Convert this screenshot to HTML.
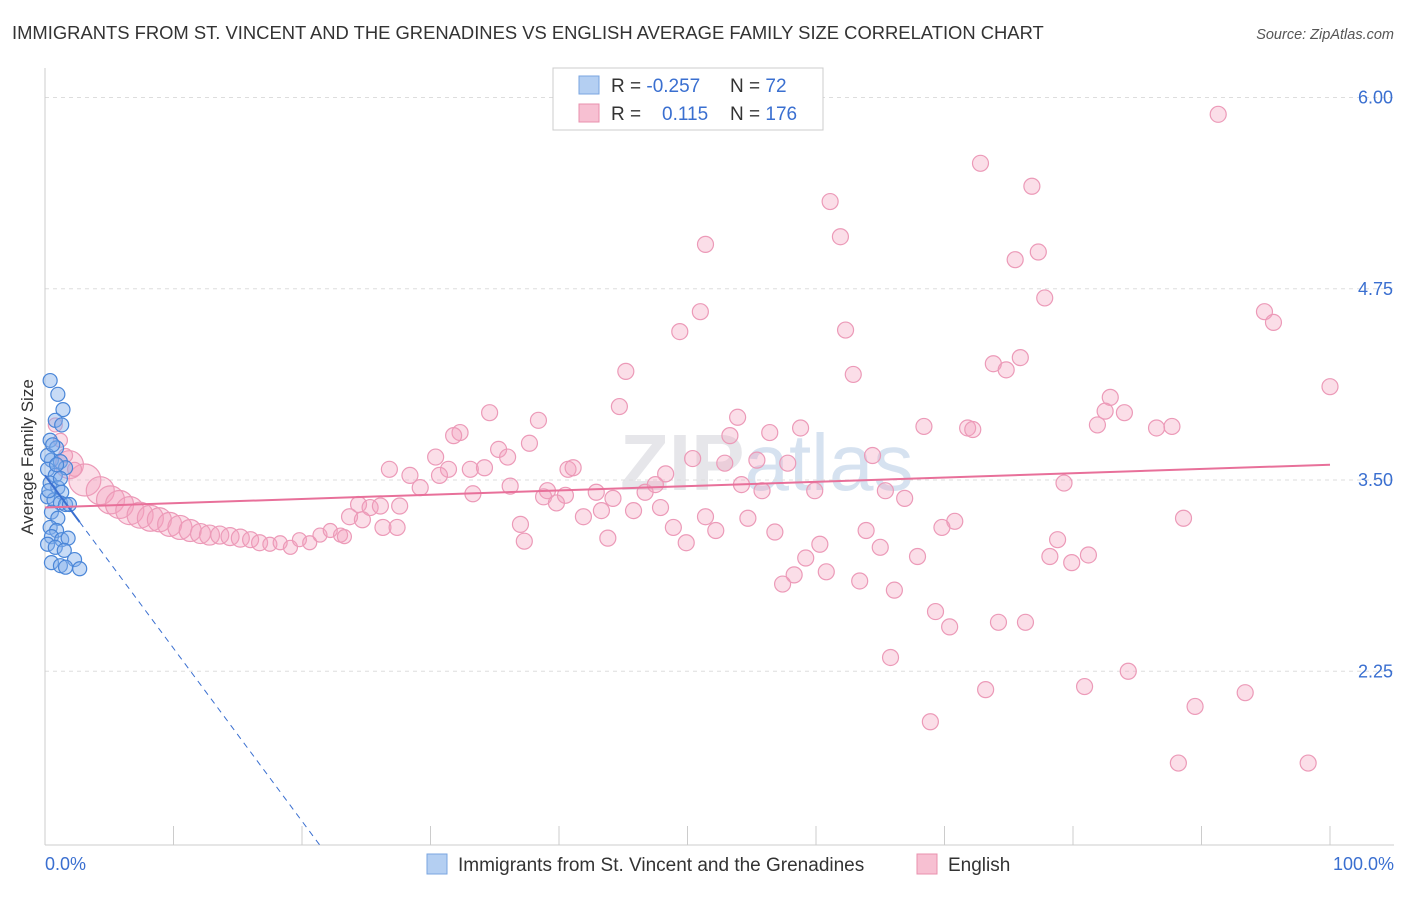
<!DOCTYPE html>
<html><head><meta charset="utf-8"><style>
body{margin:0;background:#fff;font-family:"Liberation Sans",sans-serif;}
svg text{font-family:"Liberation Sans",sans-serif;}
</style></head><body>
<svg id="chart" width="1406" height="892">
<text x="12" y="39" font-size="18.4" fill="#333">IMMIGRANTS FROM ST. VINCENT AND THE GRENADINES VS ENGLISH AVERAGE FAMILY SIZE CORRELATION CHART</text>
<text x="1394" y="39" font-size="14.5" fill="#555" font-style="italic" text-anchor="end">Source: ZipAtlas.com</text>
<text x="620" y="490" font-size="80" fill="#e6e6ea" font-weight="bold">ZIP<tspan fill="#d6e2f0" font-weight="normal">atlas</tspan></text>
<g id="grid"></g><g id="axes"></g><g id="marks"></g>
<text x="33" y="457" font-size="17" fill="#333" text-anchor="middle" transform="rotate(-90 33 457)">Average Family Size</text>
<g>
<rect x="553" y="68" width="270" height="62" fill="#fff" stroke="#ccc"/>
<rect x="579" y="76" width="20" height="18" fill="#b4cff2" stroke="#7aa6e0"/>
<rect x="579" y="104" width="20" height="18" fill="#f7c0d2" stroke="#e890ae"/>
<text x="611" y="92" font-size="19" fill="#333">R = <tspan fill="#3a6fd0">-0.257</tspan><tspan x="730">N = </tspan><tspan fill="#3a6fd0">72</tspan></text>
<text x="611" y="120" font-size="19" fill="#333">R = <tspan x="662" fill="#3a6fd0">0.115</tspan><tspan x="730">N = </tspan><tspan fill="#3a6fd0">176</tspan></text>
</g>
<g>
<rect x="427" y="854" width="20" height="20" fill="#b4cff2" stroke="#7aa6e0"/>
<text x="458" y="871" font-size="19" fill="#333">Immigrants from St. Vincent and the Grenadines</text>
<rect x="917" y="854" width="20" height="20" fill="#f7c0d2" stroke="#e890ae"/>
<text x="948" y="871" font-size="19" fill="#333">English</text>
</g>
</svg>
<script>
const yTicks=[6.00,4.75,3.50,2.25];
const yTickLabels=["6.00","4.75","3.50","2.25"];
const xTicks=[0,10,20,30,40,50,60,70,80,90,100];
const pinkX=[1.9,3.1,4.3,5.1,5.8,6.6,7.4,8.2,8.9,9.7,10.5,11.3,12.1,12.8,13.6,14.4,15.2,16.0,16.7,17.5,18.3,19.1,19.8,20.6,21.4,22.2,23.0,23.3,0.8,1.2,1.6,2.3,
91.3,72.8,76.8,61.1,61.9,51.4,77.3,75.5,77.8,51.0,49.4,62.3,94.9,95.6,73.8,75.9,74.8,62.9,45.2,100,82.9,82.5,84.0,34.6,44.7,53.9,38.4,81.9,68.4,87.7,86.5,71.8,72.2,32.3,58.8,56.4,53.3,31.8,37.7,35.3,64.4,50.4,30.4,36.0,26.8,28.4,31.4,33.1,34.2,30.7,40.7,41.1,52.9,55.4,57.8,54.2,48.3,46.7,47.5,36.2,39.1,29.2,33.3,38.8,40.5,42.9,44.2,45.8,47.9,39.8,27.6,24.4,25.3,26.1,23.7,24.7,59.9,55.8,65.4,66.9,79.3,37.0,41.9,43.3,48.9,51.4,52.2,54.7,56.8,63.9,70.8,69.8,88.6,26.3,27.4,37.3,43.8,49.9,60.3,65.0,78.8,78.2,79.9,81.2,67.9,59.2,58.3,60.8,63.4,57.4,66.1,69.3,70.4,74.2,76.3,65.8,84.3,73.2,80.9,93.4,89.5,68.9,88.2,98.3];
const pinkY=[3.60,3.50,3.43,3.37,3.34,3.30,3.27,3.25,3.24,3.21,3.19,3.17,3.15,3.14,3.14,3.13,3.12,3.11,3.09,3.08,3.09,3.06,3.11,3.09,3.14,3.17,3.14,3.13,3.86,3.76,3.66,3.57,
5.89,5.57,5.42,5.32,5.09,5.04,4.99,4.94,4.69,4.60,4.47,4.48,4.60,4.53,4.26,4.30,4.22,4.19,4.21,4.11,4.04,3.95,3.94,3.94,3.98,3.91,3.89,3.86,3.85,3.85,3.84,3.84,3.83,3.81,3.84,3.81,3.79,3.79,3.74,3.70,3.66,3.64,3.65,3.65,3.57,3.53,3.57,3.57,3.58,3.53,3.57,3.58,3.61,3.63,3.61,3.47,3.54,3.42,3.47,3.46,3.43,3.45,3.41,3.39,3.40,3.42,3.38,3.30,3.32,3.35,3.33,3.34,3.32,3.33,3.26,3.24,3.43,3.43,3.43,3.38,3.48,3.21,3.26,3.30,3.19,3.26,3.17,3.25,3.16,3.17,3.23,3.19,3.25,3.19,3.19,3.10,3.12,3.09,3.08,3.06,3.11,3.00,2.96,3.01,3.00,2.99,2.88,2.90,2.84,2.82,2.78,2.64,2.54,2.57,2.57,2.34,2.25,2.13,2.15,2.11,2.02,1.92,1.65,1.65];
const pinkW=[14,16,14,14,14,14,13,13,12,12,12,11,10,10,9,9,9,8,8,7,7,7,7,7,7,7,7,7,7,7,7,7];
const blueX=[0.4,1.0,1.4,0.8,1.3,0.4,0.9,0.5,1.2,1.6,0.2,0.8,0.4,1.0,1.3,0.2,0.7,1.2,1.6,0.5,1.0,0.4,0.9,0.5,1.3,1.8,0.2,0.8,1.5,0.5,1.2,2.3,2.7,1.6,1.9,0.2,0.6,0.9,1.2,0.3];
const blueY=[4.15,4.06,3.96,3.89,3.86,3.76,3.71,3.63,3.62,3.58,3.57,3.53,3.48,3.45,3.42,3.39,3.37,3.35,3.34,3.29,3.25,3.19,3.17,3.13,3.11,3.12,3.08,3.06,3.04,2.96,2.94,2.98,2.92,2.93,3.34,3.66,3.73,3.60,3.51,3.43];
const blueTrend=[3.53,-0.113];
const pinkTrend=[3.32,0.0028];
const NS="http://www.w3.org/2000/svg";
const X=v=>45+v*12.85, Y=v=>480-(v-3.5)*153;
function mk(p,t,a){const e=document.createElementNS(NS,t);for(const k in a)e.setAttribute(k,a[k]);p.appendChild(e);return e;}
const grid=document.getElementById('grid'),axes=document.getElementById('axes'),marks=document.getElementById('marks');
yTicks.forEach((v,i)=>{
 const l=mk(grid,'line',{x1:45,x2:1394,y1:Y(v),y2:Y(v),stroke:'#ddd','stroke-dasharray':'4,4'});
 
 
 const t=mk(axes,'text',{x:1393,y:Y(v)+6,'font-size':18,fill:'#3a6fd0','text-anchor':'end'});t.textContent=yTickLabels[i];
 
 
});
const ax=mk(axes,'line',{x1:45,x2:45,y1:68,y2:845,stroke:'#ccc'});


const bx=mk(axes,'line',{x1:45,x2:1394,y1:845,y2:845,stroke:'#ccc'});


xTicks.forEach(v=>{const t=mk(axes,'line',{x1:X(v),x2:X(v),y1:826,y2:845,stroke:'#ccc'});
 
 });
[[0,'0.0%','start',45],[100,'100.0%','end',1394]].forEach(d=>{const t=mk(axes,'text',{x:d[3],y:870,'font-size':18,fill:'#3a6fd0','text-anchor':d[2]});t.textContent=d[1];
 
 });
pinkX.forEach((x,i)=>{const c=mk(marks,'circle',{cx:X(x),cy:Y(pinkY[i]),r:pinkW[i]||8,fill:'rgba(244,160,190,0.35)',stroke:'#ec9ab8','stroke-width':1.2});
 
 });
blueX.forEach((x,i)=>{const c=mk(marks,'circle',{cx:X(x),cy:Y(blueY[i]),r:7,fill:'rgba(130,175,235,0.45)',stroke:'#4a86d8','stroke-width':1.2});
 
 });
const bEnd=(1.115-blueTrend[0])/blueTrend[1];
const bd=mk(marks,'line',{x1:X(2.7),y1:Y(blueTrend[0]+blueTrend[1]*2.7),x2:X(bEnd),y2:Y(1.115),stroke:'#3a6fd0','stroke-width':1,'stroke-dasharray':'6,5'});


const bs=mk(marks,'line',{x1:X(0),y1:Y(blueTrend[0]),x2:X(2.7),y2:Y(blueTrend[0]+blueTrend[1]*2.7),stroke:'#3a6fd0','stroke-width':2});


const ps=mk(marks,'line',{x1:X(0),y1:Y(pinkTrend[0]),x2:X(100),y2:Y(pinkTrend[0]+pinkTrend[1]*100),stroke:'#e8709a','stroke-width':2});


</script>
</body></html>
